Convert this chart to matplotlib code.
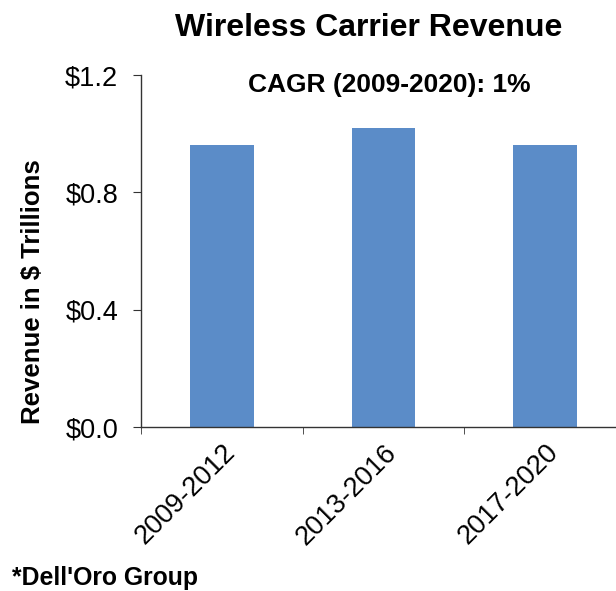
import matplotlib
matplotlib.use("Agg")
import matplotlib.pyplot as plt
from matplotlib.ticker import FixedLocator

plt.rcParams['font.family'] = ['Liberation Sans', 'DejaVu Sans']

# datos
periods = ["2009-2012", "2013-2016", "2017-2020"]
revenue = [0.96, 1.02, 0.96]
y_ticks = [0.0, 0.4, 0.8, 1.2]
y_tick_labels = ["$0.0", "$0.4", "$0.8", "$1.2"]

fig = plt.figure(figsize=(6.16, 5.91), dpi=100)
ax = fig.add_axes([141/616, 1 - 427/591, 1 - 141/616, (427 - 75)/591])

x = range(len(periods))
ax.bar(x, revenue, width=0.395, color='#5B8CC8')

ax.set_xlim(-0.5, 2.438)
ax.set_ylim(0, 1.2)

ax.spines['top'].set_visible(False)
ax.spines['right'].set_visible(False)
for s in ['left', 'bottom']:
    ax.spines[s].set_color('#333333')
    ax.spines[s].set_linewidth(1)

ax.set_yticks(y_ticks)
ax.set_yticklabels(y_tick_labels, fontsize=19.5)
ax.tick_params(axis='y', length=5.5, color='#333333', pad=11)

ax.set_xticks(list(x))
ax.set_xticklabels(periods, fontsize=19.5, rotation=45, ha='right',
                   rotation_mode='anchor')
ax.tick_params(axis='x', which='major', length=0, pad=9)
ax.xaxis.set_minor_locator(FixedLocator([-0.5, 0.5, 1.5]))
ax.tick_params(axis='x', which='minor', length=5, color='#333333')

# textos
fig.text(33/616, 1 - 292/591, "Revenue in $ Trillions", fontsize=18.5,
         fontweight='bold', rotation=90, ha='center', va='center')
fig.text(369/616, 1 - 28/591, "Wireless Carrier Revenue", fontsize=23,
         fontweight='bold', ha='center', va='center')
fig.text(389/616, 1 - 85/591, "CAGR (2009-2020): 1%", fontsize=19,
         fontweight='bold', ha='center', va='center')
fig.text(12/616, 1 - 578/591, "*Dell'Oro Group", fontsize=17.8,
         fontweight='bold', ha='left', va='center')

plt.savefig("out.png", dpi=100)
